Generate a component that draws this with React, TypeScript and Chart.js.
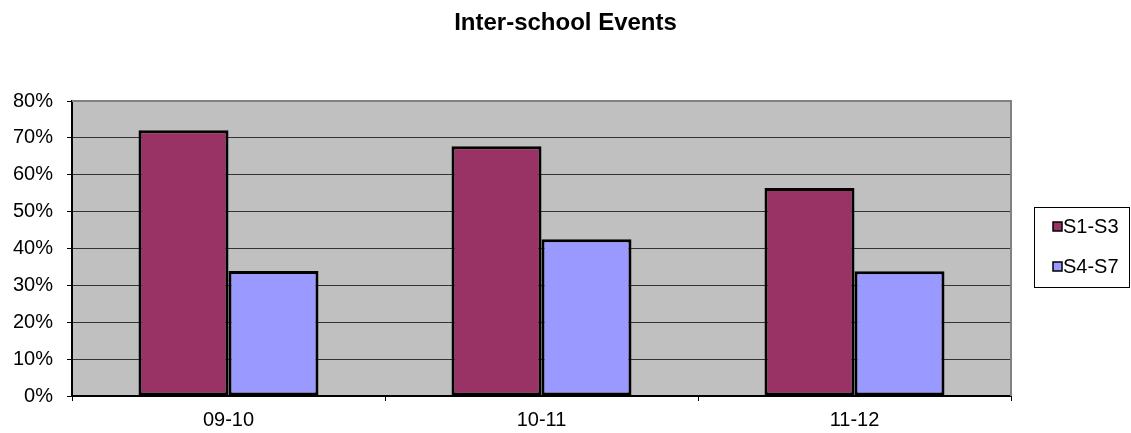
import React, { useEffect, useRef } from "react";
import { Chart, registerables } from "chart.js";

Chart.register(...registerables);

const chartTitle = "Inter-school Events";
const categories = ["09-10", "10-11", "11-12"];
const seriesNames = ["S1-S3", "S4-S7"];
const s1s3 = [72.1, 67.7, 56.4];
const s4s7 = [33.9, 42.5, 33.8];
const yTicks = [0, 10, 20, 30, 40, 50, 60, 70, 80];
const seriesColors = ["#993366", "#9999FF"];

const FONT = "'Liberation Sans', Arial, Helvetica, sans-serif";

const plotPlugin = {
  id: "plotDecor",
  beforeDraw(chart: any) {
    const { ctx, chartArea: a } = chart;
    ctx.save();
    ctx.fillStyle = "#C0C0C0";
    ctx.fillRect(a.left, a.top, a.right - a.left, a.bottom - a.top);
    ctx.restore();
  },
  beforeDatasetsDraw(chart: any) {
    const { ctx, chartArea: a } = chart;
    ctx.save();
    ctx.strokeStyle = "#808080";
    ctx.lineWidth = 2;
    ctx.beginPath();
    ctx.moveTo(a.left, a.top);
    ctx.lineTo(a.right, a.top);
    ctx.lineTo(a.right, a.bottom);
    ctx.stroke();
    ctx.restore();
  },
  afterDraw(chart: any) {
    const { ctx } = chart;
    ctx.save();
    // title
    ctx.fillStyle = "#000";
    ctx.font = `bold 24px ${FONT}`;
    ctx.textAlign = "center";
    ctx.textBaseline = "middle";
    ctx.fillText(chartTitle, chart.width / 2, 23);
    // legend
    ctx.strokeStyle = "#000";
    ctx.lineWidth = 1;
    ctx.strokeRect(1034.5, 207.5, 95, 80);
    ctx.font = `20px ${FONT}`;
    ctx.textBaseline = "middle";
    ctx.textAlign = "left";
    chart.data.datasets.forEach((ds: any, i: number) => {
      const cy = 227 + i * 40;
      ctx.fillStyle = ds.backgroundColor;
      ctx.fillRect(1053, cy - 5, 9, 9);
      ctx.lineWidth = 1.5;
      ctx.strokeStyle = "#000";
      ctx.strokeRect(1053, cy - 5, 9, 9);
      ctx.fillStyle = "#000";
      ctx.fillText(ds.label, 1063, cy);
    });
    ctx.restore();
  },
};

export default function App() {
  const ref = useRef<HTMLCanvasElement>(null);
  useEffect(() => {
    document.body.style.margin = "0";
    const chart = new Chart(ref.current!, {
      type: "bar",
      data: {
        labels: categories,
        datasets: [
          {
            label: seriesNames[0],
            data: s1s3,
            backgroundColor: seriesColors[0],
            borderColor: "#000",
            borderWidth: 3,
            borderSkipped: false,
          },
          {
            label: seriesNames[1],
            data: s4s7,
            backgroundColor: seriesColors[1],
            borderColor: "#000",
            borderWidth: 3,
            borderSkipped: false,
          },
        ],
      },
      options: {
        responsive: false,
        animation: false,
        categoryPercentage: 0.575,
        barPercentage: 1,
        layout: { padding: { left: 0, right: 120, top: 101, bottom: 0 } },
        plugins: {
          legend: { display: false },
          tooltip: { enabled: false },
          title: { display: false },
        },
        scales: {
          x: {
            grid: {
              drawOnChartArea: false,
              drawTicks: true,
              tickLength: 5,
              color: "#000",
              offset: true,
            },
            border: { color: "#000", width: 2 },
            ticks: {
              color: "#000",
              padding: 7,
              font: { family: FONT, size: 20 },
            },
            afterFit: (s: any) => {
              s.height = 37;
            },
          },
          y: {
            min: 0,
            max: 80,
            afterBuildTicks: (s: any) => {
              s.ticks = yTicks.map((v) => ({ value: v }));
            },
            grid: {
              color: "#333",
              lineWidth: 1,
              tickLength: 5,
              tickColor: "#000",
            },
            border: { color: "#000", width: 2 },
            ticks: {
              color: "#000",
              padding: 14,
              font: { family: FONT, size: 20 },
              callback: (v: any) => `${v}%`,
            },
            afterFit: (s: any) => {
              s.width = 72;
            },
          },
        },
      },
      plugins: [plotPlugin],
    });
    return () => chart.destroy();
  }, []);
  return (
    <div style={{ width: 1131, height: 433 }}>
      <canvas ref={ref} width={1131} height={433} />
    </div>
  );
}
